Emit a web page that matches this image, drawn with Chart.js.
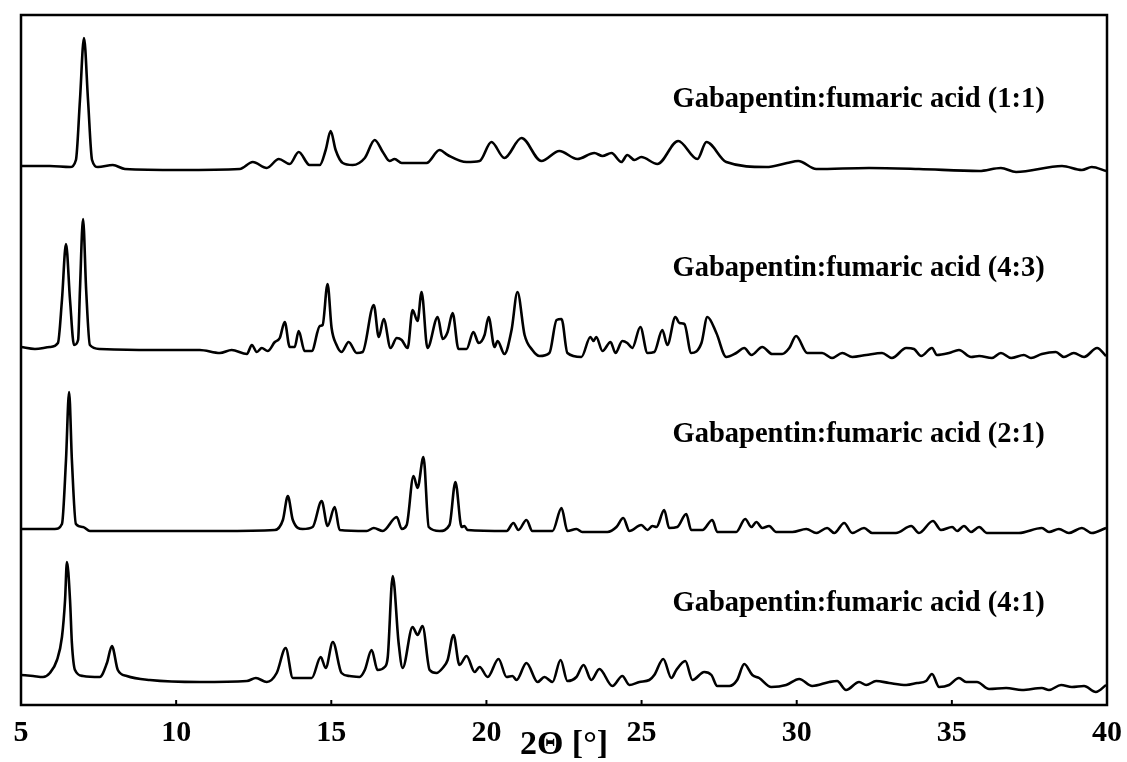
<!DOCTYPE html>
<html>
<head>
<meta charset="utf-8">
<script src="https://cdn.jsdelivr.net/npm/chart.js@4"></script>
<style>
  body { margin: 0; background: #fff; }
  canvas { display: block; }
</style>
</head>
<body>
<canvas id="xrdChart" width="1127" height="762"></canvas>
<script>
// sample names, top to bottom
const sampleNames = [
  "Gabapentin:fumaric acid (1:1)",
  "Gabapentin:fumaric acid (4:3)",
  "Gabapentin:fumaric acid (2:1)",
  "Gabapentin:fumaric acid (4:1)"
];

const xTicks = [5, 10, 15, 20, 25, 30, 35, 40];

// intensities are in arbitrary units, already stacked (offset) like in the figure
const theta11 = [5.00, 5.93, 6.58, 6.77, 6.90, 7.03, 7.16, 7.29, 7.48, 7.96, 8.35, 10.12, 12.05, 12.47, 12.92, 13.31, 13.66, 13.95, 14.30, 14.63, 14.82, 14.98, 15.14, 15.37, 15.69, 16.08, 16.40, 16.66, 16.88, 17.04, 17.27, 18.07, 18.49, 18.75, 19.36, 19.78, 20.16, 20.58, 21.13, 21.77, 22.35, 22.93, 23.48, 23.74, 24.03, 24.35, 24.54, 24.77, 24.99, 25.51, 26.18, 26.80, 27.09, 27.73, 29.02, 29.69, 30.05, 30.63, 32.33, 33.94, 35.88, 36.58, 37.07, 38.55, 39.19, 39.51, 39.97];
const int11 = [539, 539, 538, 545, 605, 667, 605, 545, 538, 540, 536, 535, 536, 543, 537, 546, 541, 553, 540, 540, 555, 574, 555, 542, 540, 547, 565, 553, 544, 546, 542, 542, 555, 550, 543, 544, 563, 547, 567, 544, 554, 546, 552, 549, 552, 543, 550, 545, 548, 541, 564, 546, 563, 543, 538, 542, 544, 536, 537, 536, 534, 537, 533, 539, 535, 538, 534];

const theta43 = [5.00, 5.45, 5.93, 6.19, 6.32, 6.45, 6.58, 6.71, 6.84, 6.90, 7.00, 7.10, 7.22, 7.54, 9.15, 10.76, 11.41, 11.79, 12.28, 12.44, 12.60, 12.76, 12.95, 13.18, 13.34, 13.50, 13.66, 13.82, 13.95, 14.14, 14.37, 14.63, 14.72, 14.88, 15.01, 15.17, 15.33, 15.56, 15.82, 16.01, 16.37, 16.53, 16.69, 16.91, 17.11, 17.27, 17.46, 17.62, 17.78, 17.91, 18.10, 18.43, 18.59, 18.75, 18.91, 19.10, 19.36, 19.58, 19.75, 19.94, 20.07, 20.26, 20.36, 20.58, 20.81, 21.00, 21.23, 21.48, 21.71, 22.03, 22.26, 22.42, 22.61, 23.06, 23.35, 23.45, 23.54, 23.74, 24.00, 24.16, 24.38, 24.54, 24.70, 24.96, 25.19, 25.41, 25.67, 25.83, 26.09, 26.22, 26.38, 26.60, 26.93, 27.12, 27.41, 27.73, 28.05, 28.31, 28.54, 28.89, 29.21, 29.53, 29.76, 29.98, 30.34, 30.82, 31.14, 31.47, 31.79, 32.24, 32.75, 33.07, 33.53, 33.78, 34.01, 34.36, 34.52, 34.91, 35.23, 35.62, 35.88, 36.29, 36.58, 36.91, 37.32, 37.55, 37.90, 38.35, 38.61, 38.93, 39.26, 39.68, 39.97];
const int43 = [358, 356, 358, 362, 405, 461, 405, 360, 365, 415, 486, 415, 360, 356, 355, 355, 352, 355, 351, 360, 353, 357, 354, 363, 367, 383, 358, 358, 374, 354, 354, 379, 380, 421, 377, 360, 353, 363, 352, 353, 400, 368, 386, 357, 367, 365, 357, 395, 384, 413, 357, 388, 366, 373, 392, 356, 356, 373, 362, 370, 388, 358, 364, 351, 375, 413, 370, 355, 349, 352, 385, 386, 352, 348, 368, 364, 368, 354, 363, 352, 364, 362, 357, 378, 352, 353, 375, 360, 388, 382, 381, 352, 362, 388, 372, 348, 352, 357, 350, 358, 351, 351, 357, 369, 352, 352, 347, 352, 348, 350, 352, 347, 357, 356, 349, 357, 350, 352, 355, 348, 349, 347, 352, 347, 350, 347, 351, 353, 348, 352, 348, 357, 349];

const theta21 = [5.00, 6.09, 6.32, 6.45, 6.55, 6.64, 6.77, 7.00, 7.22, 9.15, 11.41, 13.18, 13.44, 13.60, 13.76, 14.08, 14.40, 14.69, 14.88, 15.11, 15.27, 16.14, 16.37, 16.66, 17.11, 17.27, 17.43, 17.65, 17.78, 17.97, 18.14, 18.49, 18.81, 19.00, 19.20, 19.29, 19.39, 20.65, 20.87, 21.03, 21.29, 21.48, 22.13, 22.42, 22.61, 22.90, 23.09, 23.90, 24.19, 24.41, 24.61, 24.99, 25.19, 25.35, 25.48, 25.73, 25.89, 26.15, 26.44, 26.60, 26.96, 27.28, 27.44, 28.05, 28.34, 28.54, 28.70, 28.89, 29.11, 29.34, 29.86, 30.31, 30.63, 30.98, 31.21, 31.53, 31.79, 32.17, 32.43, 33.20, 33.69, 33.94, 34.39, 34.65, 35.01, 35.17, 35.39, 35.62, 35.88, 36.13, 37.16, 37.90, 38.13, 38.45, 38.77, 39.19, 39.51, 39.97];
const int21 = [176, 176, 181, 245, 313, 245, 181, 178, 174, 174, 174, 175, 185, 209, 185, 176, 178, 204, 179, 198, 175, 174, 177, 174, 188, 176, 180, 229, 217, 248, 178, 174, 180, 223, 178, 179, 175, 174, 182, 175, 185, 174, 174, 197, 174, 176, 173, 173, 178, 187, 174, 180, 175, 179, 178, 195, 177, 178, 191, 175, 175, 185, 173, 173, 186, 178, 183, 177, 179, 173, 173, 176, 172, 177, 172, 182, 172, 177, 172, 172, 179, 172, 184, 175, 178, 174, 179, 173, 178, 172, 172, 177, 173, 176, 172, 177, 172, 177];

const theta41 = [5.00, 5.39, 5.71, 5.93, 6.16, 6.32, 6.42, 6.48, 6.58, 6.64, 6.74, 7.00, 7.54, 7.77, 7.93, 8.12, 8.41, 9.15, 10.76, 12.28, 12.57, 12.92, 13.24, 13.53, 13.76, 14.37, 14.66, 14.82, 15.05, 15.33, 15.59, 15.91, 16.08, 16.30, 16.49, 16.72, 16.82, 16.98, 17.17, 17.30, 17.62, 17.78, 17.94, 18.17, 18.39, 18.59, 18.75, 18.94, 19.13, 19.36, 19.62, 19.78, 20.04, 20.39, 20.65, 20.84, 20.97, 21.29, 21.65, 21.87, 22.13, 22.39, 22.61, 22.90, 23.13, 23.38, 23.64, 24.06, 24.38, 24.61, 24.93, 25.25, 25.41, 25.70, 25.96, 26.12, 26.41, 26.64, 27.02, 27.25, 27.44, 27.83, 28.08, 28.31, 28.57, 28.79, 29.18, 29.66, 30.08, 30.50, 31.05, 31.30, 31.59, 32.01, 32.24, 32.56, 32.98, 33.53, 33.88, 34.17, 34.36, 34.59, 34.91, 35.23, 35.46, 35.81, 36.20, 36.75, 37.26, 37.90, 38.13, 38.52, 38.87, 39.26, 39.64, 39.97];
const int41 = [30, 29, 28, 32, 45, 68, 105, 143, 105, 62, 35, 29, 28, 42, 59, 35, 29, 25, 23, 24, 27, 23, 32, 57, 27, 27, 48, 37, 63, 32, 29, 28, 35, 55, 35, 38, 48, 129, 62, 37, 78, 70, 79, 35, 32, 37, 45, 70, 40, 49, 33, 38, 28, 46, 28, 29, 25, 42, 23, 28, 23, 45, 24, 28, 40, 25, 36, 19, 29, 20, 23, 25, 30, 46, 27, 35, 44, 25, 33, 30, 19, 19, 25, 41, 30, 27, 18, 20, 26, 19, 23, 24, 15, 23, 20, 24, 22, 20, 22, 24, 31, 18, 20, 27, 23, 23, 16, 17, 15, 17, 15, 20, 18, 19, 13, 20];

// where the sample names sit (data coords)
const labelX = 26.0;
const labelY = [605, 436, 270, 101];

const serif = "'Liberation Serif', 'Times New Roman', serif";

const makeSeries = (xs, ys) => xs.map((x, i) => ({ x: x, y: ys[i] }));

const seriesList = [
  makeSeries(theta11, int11),
  makeSeries(theta43, int43),
  makeSeries(theta21, int21),
  makeSeries(theta41, int41)
];

const framePlugin = {
  id: "frame",
  afterDraw(chart) {
    const { ctx, chartArea } = chart;
    const xs = chart.scales.x;
    const ys = chart.scales.y;
    ctx.save();
    ctx.strokeStyle = "#000";
    ctx.lineWidth = 2.5;
    ctx.strokeRect(chartArea.left, chartArea.top, chartArea.right - chartArea.left, chartArea.bottom - chartArea.top);
    // small inward tick marks
    ctx.lineWidth = 2;
    xTicks.forEach((t) => {
      const px = xs.getPixelForValue(t);
      ctx.beginPath();
      ctx.moveTo(px, chartArea.bottom);
      ctx.lineTo(px, chartArea.bottom - 5);
      ctx.stroke();
    });
    // sample labels
    ctx.fillStyle = "#000";
    ctx.font = "bold 28.5px " + serif;
    ctx.textAlign = "left";
    ctx.textBaseline = "middle";
    sampleNames.forEach((name, i) => {
      ctx.fillText(name, xs.getPixelForValue(labelX), ys.getPixelForValue(labelY[i]));
    });
    ctx.restore();
  }
};

const renderChart = () => {
  const ctx = document.getElementById("xrdChart");

  new Chart(ctx, {
    type: "line",
    data: {
      datasets: seriesList.map((s, i) => ({
        label: sampleNames[i],
        data: s,
        borderColor: "#000",
        borderWidth: 2.6,
        pointRadius: 0,
        fill: false,
        cubicInterpolationMode: "monotone",
      })),
    },
    options: {
      responsive: false,
      animation: false,
      layout: { padding: { left: 21, right: 20, top: 15, bottom: 0 } },
      plugins: {
        legend: { display: false },
        tooltip: { enabled: false },
      },
      scales: {
        x: {
          type: "linear",
          min: 5,
          max: 40,
          afterBuildTicks: (scale) => {
            scale.ticks = xTicks.map((v) => ({ value: v }));
          },
          afterFit: (scale) => {
            scale.height = 57;
            scale.paddingLeft = 0;
            scale.paddingRight = 0;
          },
          grid: { display: false },
          border: { display: false },
          ticks: {
            color: "#000",
            padding: 2,
            maxRotation: 0,
            font: { family: serif, size: 30, weight: "bold" },
          },
          title: {
            display: true,
            text: "2Θ [°]",
            color: "#000",
            padding: 0,
            font: { family: serif, size: 34, weight: "bold", lineHeight: 1.0 },
          },
        },
        y: {
          display: false,
          min: 0,
          max: 690,
        },
      },
    },
    plugins: [framePlugin],
  });
};

renderChart();
</script>
</body>
</html>
